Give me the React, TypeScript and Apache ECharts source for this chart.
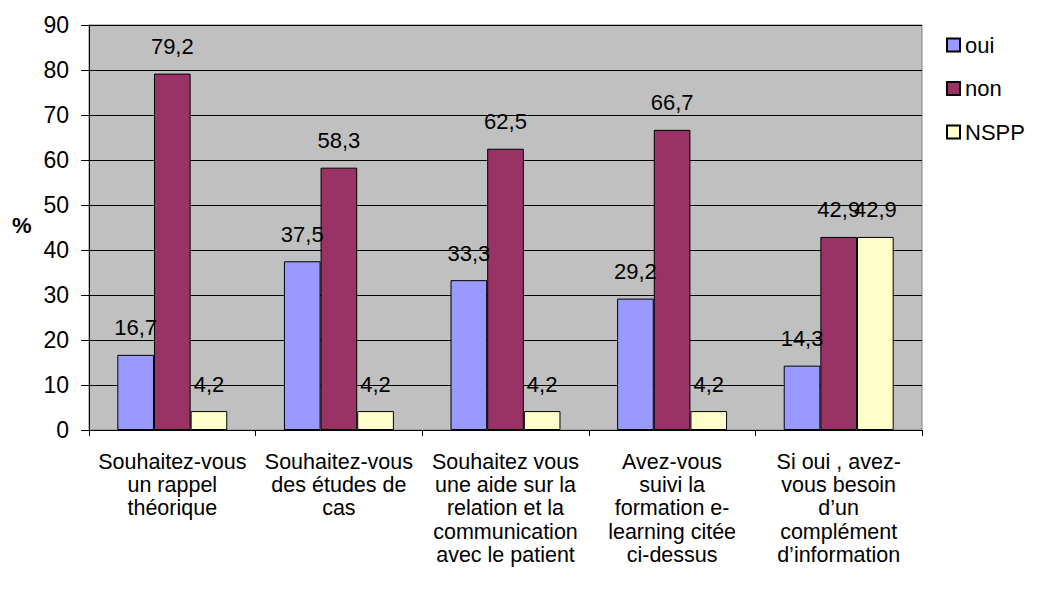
import React, { useEffect, useRef } from "react";
import * as echarts from "echarts";

const categories = [
  "Souhaitez-vous\nun rappel\nthéorique",
  "Souhaitez-vous\ndes études de\ncas",
  "Souhaitez vous\nune aide sur la\nrelation et la\ncommunication\navec le patient",
  "Avez-vous\nsuivi la\nformation e-\nlearning citée\nci-dessus",
  "Si oui , avez-\nvous besoin\nd’un\ncomplément\nd’information",
];
const ouiValues = [16.7, 37.5, 33.3, 29.2, 14.3];
const nonValues = [79.2, 58.3, 62.5, 66.7, 42.9];
const nsppValues = [4.2, 4.2, 4.2, 4.2, 42.9];
const seriesNames = ["oui", "non", "NSPP"];
const seriesColors = ["#9999FF", "#993366", "#FFFFCC"];

const FONT = "'Liberation Sans', Arial, sans-serif";

export default function App() {
  const ref = useRef<HTMLDivElement>(null);
  useEffect(() => {
    if (!ref.current) return;
    const chart = echarts.init(ref.current, undefined, { renderer: "svg" });
    const datasets = [ouiValues, nonValues, nsppValues];
    chart.setOption({
      animation: false,
      backgroundColor: "#FFFFFF",
      textStyle: { fontFamily: FONT, color: "#000" },
      grid: {
        left: 89,
        right: 117,
        top: 25,
        bottom: 164,
        show: true,
        backgroundColor: "#C0C0C0",
        borderColor: "#808080",
        borderWidth: 1,
      },
      legend: {
        orient: "vertical",
        left: 941,
        top: 29,
        itemWidth: 13,
        itemHeight: 13,
        itemGap: 21.5,
        icon: "rect",
        textStyle: { fontFamily: FONT, fontSize: 22, color: "#000", lineHeight: 22, padding: [0, 0, 0, 0] },
        data: seriesNames,
      },
      xAxis: {
        type: "category",
        data: categories,
        axisLine: { show: true, lineStyle: { color: "#000", width: 1 } },
        axisTick: { show: true, length: 6, lineStyle: { color: "#000" } },
        axisLabel: {
          interval: 0,
          margin: 20,
          fontFamily: FONT,
          fontSize: 21.5,
          lineHeight: 23.3,
          color: "#000",
          align: "center",
        },
      },
      yAxis: {
        type: "value",
        min: 0,
        max: 90,
        interval: 10,
        axisLine: { show: true, lineStyle: { color: "#000", width: 1 } },
        axisTick: { show: true, length: 8, inside: false, lineStyle: { color: "#000" } },
        splitLine: { show: true, lineStyle: { color: "#000", width: 1 } },
        axisLabel: { margin: 20, fontFamily: FONT, fontSize: 23, color: "#000" },
      },
      graphic: [
        {
          type: "text",
          left: 12,
          top: 214,
          style: { text: "%", font: `bold 22px ${FONT}`, fill: "#000" },
        },
      ],
      series: seriesNames.map((name, i) => ({
        name,
        type: "bar",
        data: datasets[i],
        barGap: "0%",
        barCategoryGap: "34%",
        itemStyle: { color: seriesColors[i], borderColor: "#000", borderWidth: 1 },
        label: {
          show: true,
          position: "top",
          distance: 16,
          fontFamily: FONT,
          fontSize: 22,
          color: "#000",
          formatter: (p: any) => String(p.value).replace(".", ","),
        },
      })),
    });
    return () => chart.dispose();
  }, []);
  return (
    <div
      ref={ref}
      style={{ position: "fixed", left: 0, top: 0, width: 1039, height: 594 }}
    />
  );
}
